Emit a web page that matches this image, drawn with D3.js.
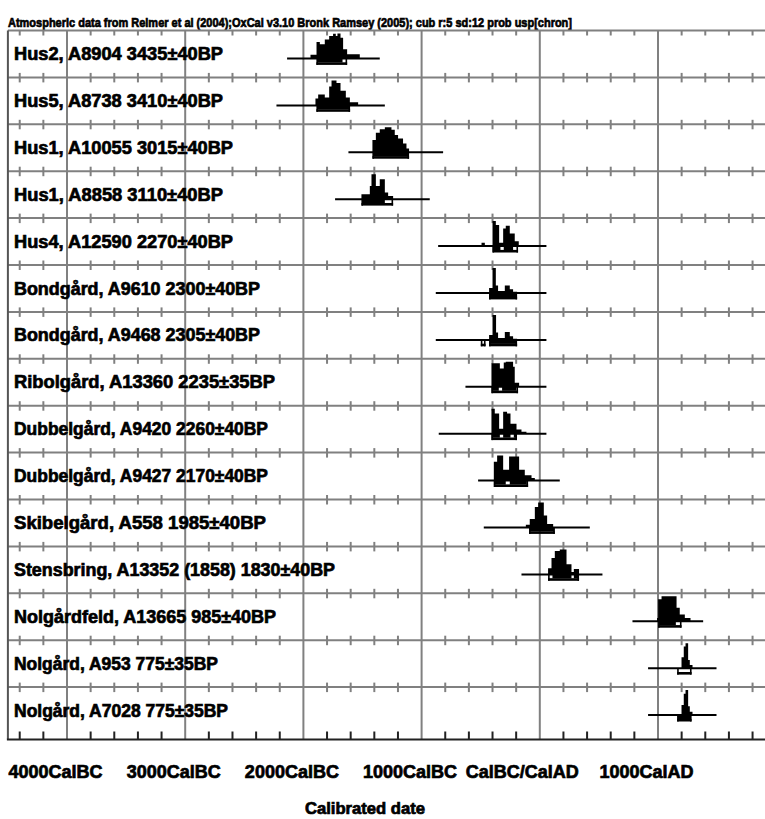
<!DOCTYPE html>
<html>
<head>
<meta charset="utf-8">
<script src="https://cdn.jsdelivr.net/npm/d3@7"></script>
<style>
  body { margin: 0; background: #fff; }
  svg text { font-family: "Liberation Sans", Arial, sans-serif; font-weight: bold; fill: #000; }
</style>
</head>
<body>
<svg id="chart" width="765" height="819"></svg>
<script>
// ---- data -------------------------------------------------------------
const titleText = "Atmospheric data from Reimer et al (2004);OxCal v3.10 Bronk Ramsey (2005); cub r:5 sd:12 prob usp[chron]";

const labels = [
  "Hus2, A8904 3435±40BP",
  "Hus5, A8738 3410±40BP",
  "Hus1, A10055 3015±40BP",
  "Hus1, A8858 3110±40BP",
  "Hus4, A12590 2270±40BP",
  "Bondgård, A9610 2300±40BP",
  "Bondgård, A9468 2305±40BP",
  "Ribolgård, A13360 2235±35BP",
  "Dubbelgård, A9420 2260±40BP",
  "Dubbelgård, A9427 2170±40BP",
  "Skibelgård, A558 1985±40BP",
  "Stensbring, A13352 (1858) 1830±40BP",
  "Nolgårdfeld, A13665 985±40BP",
  "Nolgård, A953 775±35BP",
  "Nolgård, A7028 775±35BP"
];

// plotted extent of each calibrated distribution (cal years, BC negative)
const extents = [
  [-2138, -1354], [-2228, -1311], [-1619, -818], [-1732, -931], [-860, 56],
  [-880, 56], [-880, 56], [-629, 56], [-855, 56], [-522, 169],
  [-474, 423], [-155, 530], [784, 1382], [916, 1495], [916, 1495]
];

// 68.2% and 95.4% highest probability ranges
const range68 = [
  [[-1885, -1669]],
  [[-1885, -1610]],
  [[-1412, -1108]],
  [[-1505, -1311]],
  [[-400, -333], [-305, -226]],
  [[-429, -195]],
  [[-429, -195]],
  [[-409, -347], [-319, -198]],
  [[-409, -338], [-310, -248], [-220, -195]],
  [[-389, -288], [-254, -110]],
  [[-88, 124]],
  [[107, 268], [288, 330]],
  [[1005, 1151]],
  [],
  [[1165, 1280]]
];
const range95 = [
  [[-1890, -1630]],
  [[-1890, -1605]],
  [[-1416, -1106]],
  [[-1509, -1241]],
  [[-400, -184]],
  [[-429, -192]],
  [[-499, -459], [-429, -192]],
  [[-409, -184]],
  [[-409, -193]],
  [[-389, -99]],
  [[-91, 127]],
  [[70, 332]],
  [[1001, 1199]],
  [[1162, 1284]],
  [[1162, 1284]]
];

// probability distributions: [cal year where the step starts, relative probability]
const distributions = [
  [[-1940,0.15],[-1889,0.66],[-1861,0.57],[-1819,0.76],[-1782,0.9],[-1749,0.99],[-1726,0.9],[-1712,1],[-1686,0.83],[-1664,0.37],[-1630,0.17],[-1523,0]],
  [[-1898,0.28],[-1875,0.44],[-1819,0.32],[-1782,0.76],[-1762,1],[-1720,0.9],[-1686,0.59],[-1641,0.32],[-1607,0.13],[-1537,0]],
  [[-1416,0.49],[-1387,0.78],[-1354,0.92],[-1311,1],[-1255,0.9],[-1227,0.69],[-1199,0.55],[-1157,0.35],[-1128,0.15],[-1106,0]],
  [[-1509,0.2],[-1438,0.53],[-1424,1],[-1387,0.53],[-1354,0.8],[-1311,0.27],[-1283,0.13],[-1241,0]],
  [[-493,0.13],[-465,0],[-400,1],[-372,0.84],[-344,0.13],[-310,0.7],[-288,0.81],[-254,0.5],[-212,0.19],[-178,0]],
  [[-429,0.2],[-400,1],[-372,0.3],[-353,0.08],[-296,0.3],[-254,0.15],[-226,0.05],[-192,0]],
  [[-429,0.2],[-400,1],[-370,0.3],[-353,0.08],[-296,0.32],[-254,0.15],[-226,0.05],[-192,0]],
  [[-409,0.94],[-338,0.73],[-305,0.97],[-288,1],[-226,0.8],[-212,0.16],[-175,0]],
  [[-409,1],[-381,0.81],[-344,0.2],[-310,0.88],[-277,0.81],[-248,0.4],[-197,0.17],[-155,0.08],[-113,0]],
  [[-389,0.75],[-361,1],[-310,0.43],[-260,0.96],[-175,0.43],[-127,0.21],[-70,0.1],[-42,0]],
  [[-118,0.11],[-85,0.34],[-42,0.82],[-14,1],[34,0.48],[62,0.14],[113,0]],
  [[70,0.25],[99,0.66],[127,0.94],[169,1],[226,0.41],[268,0.1],[288,0.22],[332,0]],
  [[992,0.13],[1001,0.88],[1030,1],[1157,0.54],[1184,0.27],[1227,0.13],[1275,0]],
  [[1199,0.44],[1218,0.87],[1233,1],[1255,0.33],[1269,0.13],[1292,0]],
  [[1199,0.4],[1218,0.85],[1233,1],[1255,0.35],[1269,0.13],[1292,0]]
];

const axisYears = [-4000, -3000, -2000, -1000, 0, 1000];
const axisLabels = ["4000CalBC", "3000CalBC", "2000CalBC", "1000CalBC", "CalBC/CalAD", "1000CalAD"];
const axisTitle = "Calibrated date";

// ---- layout -----------------------------------------------------------
const W = 765;
const gridGray = "#808080";
const top0 = 30.5, rowH = 46.9, axisY = 739.5;
const baseOff = 28;      // distribution baseline inside a row
const peakH = 25;        // height of a distribution's maximum

// rendered width of each row label (the bitmap font is fairly condensed)
const labelWidths = [209, 209, 219, 209, 219, 246, 246, 261, 254, 254, 252, 321, 262, 204, 214];

const x = d3.scaleLinear().domain([-4000, 1000]).range([67, 658]);
const row = d3.scaleBand()
  .domain(d3.range(labels.length))
  .range([top0, top0 + rowH * labels.length]);
const yProb = d3.scaleLinear().domain([0, 1]).range([0, -peakH]);

const xLeft = x(-4500);
const majors = axisYears;
const minors = d3.range(-4400, 1900, 200).filter(d => d % 1000 !== 0);

const svg = d3.select("#chart");

// title
svg.append("text")
  .attr("x", 8).attr("y", 27)
  .attr("font-size", 13)
  .attr("textLength", 564).attr("lengthAdjust", "spacingAndGlyphs")
  .attr("stroke", "#000").attr("stroke-width", 0.7)
  .text(titleText);

// grid: vertical lines at every 1000 years
const grid = svg.append("g");
grid.selectAll("line.v").data(majors).join("line")
  .attr("class", "v")
  .attr("x1", d => x(d)).attr("x2", d => x(d))
  .attr("y1", top0).attr("y2", axisY)
  .attr("stroke", gridGray).attr("stroke-width", 2);

// horizontal separators with 200-year ticks
const sepIdx = d3.range(labels.length);
grid.selectAll("line.h").data(sepIdx).join("line")
  .attr("class", "h")
  .attr("x1", xLeft).attr("x2", W)
  .attr("y1", i => row(i)).attr("y2", i => row(i))
  .attr("stroke", gridGray).attr("stroke-width", 2);

sepIdx.forEach(i => {
  const y = row(i);
  grid.append("g").selectAll("line").data(minors).join("line")
    .attr("x1", d => x(d)).attr("x2", d => x(d))
    .attr("y1", i === 0 ? y : y - 4.5)
    .attr("y2", y + 5)
    .attr("stroke", gridGray).attr("stroke-width", 2);
});

// left border
svg.append("line")
  .attr("x1", xLeft).attr("x2", xLeft)
  .attr("y1", top0).attr("y2", axisY)
  .attr("stroke", "#555").attr("stroke-width", 2);

// bottom axis line and ticks
svg.append("line")
  .attr("x1", xLeft - 1).attr("x2", W)
  .attr("y1", axisY).attr("y2", axisY)
  .attr("stroke", "#222").attr("stroke-width", 2.2);
svg.append("g").selectAll("line").data(minors).join("line")
  .attr("x1", d => x(d)).attr("x2", d => x(d))
  .attr("y1", axisY - 8).attr("y2", axisY)
  .attr("stroke", "#222").attr("stroke-width", 2);

// axis labels
const axis = d3.axisBottom(x)
  .tickValues(axisYears)
  .tickFormat((d, i) => axisLabels[i])
  .tickSize(0).tickPadding(0);
const axG = svg.append("g").attr("transform", `translate(0,${778})`).call(axis);
axG.select(".domain").remove();
axG.selectAll("text")
  .attr("y", 0).attr("dy", 0)
  .attr("dx", d => d === 0 ? -18 : -12)
  .attr("font-size", 18)
  .attr("font-family", "Liberation Sans, Arial, sans-serif")
  .attr("font-weight", "bold")
  .attr("fill", "#000")
  .attr("stroke", "#000").attr("stroke-width", 0.7);

svg.append("text")
  .attr("x", 365).attr("y", 814)
  .attr("text-anchor", "middle")
  .attr("font-size", 16)
  .attr("textLength", 120).attr("lengthAdjust", "spacingAndGlyphs")
  .attr("stroke", "#000").attr("stroke-width", 0.7)
  .text(axisTitle);

// ---- rows -------------------------------------------------------------
const area = d3.area()
  .x(d => x(d[0]))
  .y0(0)
  .y1(d => yProb(d[1]))
  .curve(d3.curveStepAfter);

const rows = svg.append("g").selectAll("g").data(labels).join("g")
  .attr("transform", (d, i) => `translate(0,${row(i) + baseOff})`);

rows.append("text")
  .attr("x", 14).attr("y", 1.5)
  .attr("font-size", 18)
  .attr("textLength", (d, i) => labelWidths[i])
  .attr("lengthAdjust", "spacingAndGlyphs")
  .attr("stroke", "#000").attr("stroke-width", 0.7)
  .text(d => d);

rows.each(function (lab, i) {
  const g = d3.select(this);
  const ext = extents[i];
  g.append("line")
    .attr("x1", x(ext[0])).attr("x2", x(ext[1]))
    .attr("y1", 0).attr("y2", 0)
    .attr("stroke", "#000").attr("stroke-width", 2);

  g.append("path")
    .datum(distributions[i])
    .attr("d", area)
    .attr("fill", "#000");

  // 68.2% range: bar directly under the baseline
  g.selectAll("rect.r68").data(range68[i]).join("rect")
    .attr("class", "r68")
    .attr("x", r => x(r[0])).attr("width", r => x(r[1]) - x(r[0]))
    .attr("y", 0).attr("height", 4)
    .attr("fill", "#000");

  // 95.4% range: lower bar with end ticks
  const r95 = g.selectAll("g.r95").data(range95[i]).join("g").attr("class", "r95");
  r95.append("rect")
    .attr("x", r => x(r[0])).attr("width", r => x(r[1]) - x(r[0]))
    .attr("y", 3.8).attr("height", 2.6)
    .attr("fill", "#000");
  r95.append("rect")
    .attr("x", r => x(r[0])).attr("width", 1.6)
    .attr("y", 0).attr("height", 6.4)
    .attr("fill", "#000");
  r95.append("rect")
    .attr("x", r => x(r[1]) - 1.6).attr("width", 1.6)
    .attr("y", 0).attr("height", 6.4)
    .attr("fill", "#000");
});
</script>
</body>
</html>
